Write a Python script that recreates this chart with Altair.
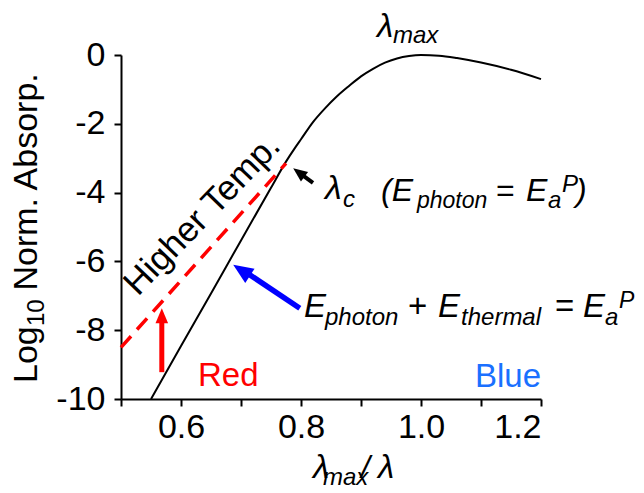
import altair as alt
import pandas as pd

FONT = "Liberation Sans"

# black absorption curve (x = lambda_max/lambda, y = log10 normalized absorption)
curve_x = [0.55, 0.60, 0.65, 0.70, 0.75, 0.775, 0.79, 0.80, 0.82, 0.84, 0.86, 0.88,
           0.90, 0.92, 0.94, 0.96, 0.98, 1.00, 1.03, 1.06, 1.10, 1.15, 1.20]
curve_y = [-10.0, -8.46, -6.93, -5.39, -3.86, -3.10, -2.70, -2.45, -1.95, -1.55, -1.20, -0.90,
           -0.62, -0.40, -0.22, -0.10, -0.03, 0.0, -0.02, -0.09, -0.22, -0.43, -0.70]

# red dashed (higher temperature) line
dash_x = [0.50, 0.775]
dash_y = [-8.50, -3.15]

# arrows
arrow_color = ["#ff0000", "#0000ff", "#000000"]
arrow_tail_x = [0.568, 0.798, 0.820]
arrow_tail_y = [-9.22, -7.36, -3.72]
arrow_base_x = [0.568, 0.7067, 0.7973]
arrow_base_y = [-7.65, -6.297, -3.424]
arrow_tip_x = [0.568, 0.687, 0.787]
arrow_tip_y = [-7.36, -6.10, -3.29]
arrow_angle = [0, 303.5, 307]
arrow_width = [5, 5.5, 4]
arrow_head = [900, 1600, 800]

# annotation text pieces
t_text = ["λ", "max",
          "λ", "c", "(E", "photon", "=", "E", "a", "P", ")",
          "E", "photon", "+", "E", "thermal", "=", "E", "a", "P",
          "Red", "Blue",
          "λ", "max", "/", "λ"]
t_x = [0.9267, 0.9533,
       0.8400, 0.870, 0.9333, 0.9933, 1.1250, 1.175, 1.2117, 1.235, 1.2583,
       0.805, 0.840, 0.9783, 1.0283, 1.0667, 1.2233, 1.270, 1.3067, 1.3300,
       0.6283, 1.09,
       0.82, 0.8367, 0.90, 0.9283]
t_y = [0.523, 0.349,
       -4.186, -4.419, -4.244, -4.448, -4.244, -4.244, -4.448, -3.983, -4.244,
       -7.616, -7.849, -7.616, -7.616, -7.849, -7.616, -7.616, -7.849, -7.355,
       -9.622, -9.651,
       -12.29, -12.49, -12.29, -12.29]
t_size = [33, 24,
          34, 24, 32, 23, 32, 32, 24, 24, 32,
          33, 24, 33, 33, 24, 33, 33, 24, 23,
          33, 33,
          33, 24, 32, 33]
t_italic = [1, 1,
            1, 1, 1, 1, 0, 1, 1, 1, 1,
            1, 1, 0, 1, 1, 0, 1, 1, 1,
            0, 0,
            1, 1, 1, 1]
t_color = ["#000000"] * 20 + ["#ff0000", "#1a70ff"] + ["#000000"] * 4

# rotated text pieces (y-axis title and "Higher Temp.")
r_text = ["Log", "10", "Norm. Absorp.", "Higher Temp."]
r_x = [0.360, 0.372, 0.360, 0.5283]
r_y = [-9.535, -7.88, -6.846, -7.035]
r_size = [34, 24, 34, 35]
r_angle = [270, 270, 270, 314]

x_ticks = [0.5, 0.6, 0.7, 0.8, 0.9, 1.0, 1.1, 1.2]
y_ticks = [-10, -9, -8, -7, -6, -5, -4, -3, -2, -1, 0]

curve = pd.DataFrame({"x": curve_x, "y": curve_y})
dash = pd.DataFrame({"x": dash_x, "y": dash_y})
arrows = pd.DataFrame({"c": arrow_color, "x": arrow_tail_x, "y": arrow_tail_y,
                       "x2": arrow_base_x, "y2": arrow_base_y,
                       "tx": arrow_tip_x, "ty": arrow_tip_y,
                       "a": arrow_angle, "w": arrow_width, "s": arrow_head})
texts = pd.DataFrame({"t": t_text, "x": t_x, "y": t_y, "s": t_size, "i": t_italic, "c": t_color})
rtexts = pd.DataFrame({"t": r_text, "x": r_x, "y": r_y, "s": r_size, "a": r_angle})

xs = alt.Scale(domain=[0.5, 1.2], nice=False, zero=False)
ys = alt.Scale(domain=[-10, 0], nice=False, zero=False)

x_axis = alt.Axis(values=x_ticks, title=None, grid=False,
                  labelExpr="indexof(['0.6','0.8','1.0','1.2'], format(datum.value,'.1f')) >= 0 ? format(datum.value,'.1f') : ''",
                  labelPadding=4)
y_axis = alt.Axis(values=y_ticks, title=None, grid=False,
                  labelExpr="datum.value % 2 == 0 ? (datum.value < 0 ? '-' + abs(datum.value) : '' + datum.value) : ''",
                  labelPadding=9)

base_curve = alt.Chart(curve).mark_line(color="black", strokeWidth=2, interpolate="monotone").encode(
    x=alt.X("x:Q", scale=xs, axis=x_axis),
    y=alt.Y("y:Q", scale=ys, axis=y_axis),
)

dashed = alt.Chart(dash).mark_line(color="#ff0000", strokeWidth=3.5, strokeDash=[15, 9]).encode(
    x=alt.X("x:Q", scale=xs), y=alt.Y("y:Q", scale=ys))

shafts = alt.Chart(arrows).mark_rule(strokeCap="butt").encode(
    x=alt.X("x:Q", scale=xs), y=alt.Y("y:Q", scale=ys), x2="x2:Q", y2="y2:Q",
    color=alt.Color("c:N", scale=None),
    strokeWidth=alt.StrokeWidth("w:Q", scale=None))

heads = alt.Chart(arrows).mark_point(shape="M0,0 L-0.42,1 L0.42,1 Z", filled=True,
                                     opacity=1, strokeWidth=0).encode(
    x=alt.X("tx:Q", scale=xs), y=alt.Y("ty:Q", scale=ys),
    color=alt.Color("c:N", scale=None),
    angle=alt.Angle("a:Q", scale=None),
    size=alt.Size("s:Q", scale=None))

normal_text = alt.Chart(texts).transform_filter("datum.i == 0").mark_text(
    font=FONT, align="left", baseline="alphabetic").encode(
    x=alt.X("x:Q", scale=xs), y=alt.Y("y:Q", scale=ys), text="t:N",
    size=alt.Size("s:Q", scale=None), color=alt.Color("c:N", scale=None))

italic_text = alt.Chart(texts).transform_filter("datum.i == 1").mark_text(
    font=FONT, fontStyle="italic", align="left", baseline="alphabetic").encode(
    x=alt.X("x:Q", scale=xs), y=alt.Y("y:Q", scale=ys), text="t:N",
    size=alt.Size("s:Q", scale=None), color=alt.Color("c:N", scale=None))

rot_text = alt.Chart(rtexts).mark_text(font=FONT, align="left", baseline="alphabetic", color="black").encode(
    x=alt.X("x:Q", scale=xs), y=alt.Y("y:Q", scale=ys), text="t:N",
    size=alt.Size("s:Q", scale=None), angle=alt.Angle("a:Q", scale=None))

chart = alt.layer(base_curve, dashed, shafts, heads, normal_text, italic_text, rot_text).properties(
    width=420, height=344,
    autosize=alt.AutoSizeParams(type="none"),
    padding={"left": 113, "top": 47, "right": 95, "bottom": 86},
    background="white",
).configure_view(stroke=None).configure_axis(
    domainColor="black", domainWidth=2, tickColor="black", tickWidth=2, tickSize=7,
    labelFont=FONT, labelFontSize=34, labelColor="black",
)

chart.save("out.html", embed_options={"renderer": "svg", "actions": False})
